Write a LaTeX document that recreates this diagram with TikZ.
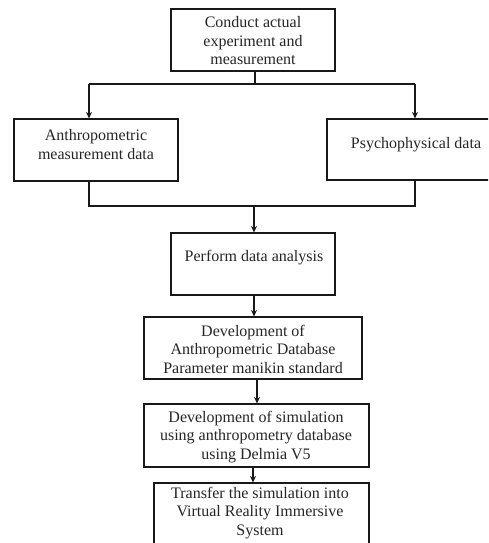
\documentclass[tikz,border=0pt]{standalone}
\usepackage{fontspec}
\setmainfont{Liberation Serif}
\usetikzlibrary{arrows.meta}
\begin{document}
\begin{tikzpicture}[x=1pt,y=-1pt,
  boxnode/.style={draw=black!90, line width=1.1pt, rectangle, inner sep=0pt},
  txt/.style={align=center, inner sep=0pt, font=\fontsize{16}{18.5}\selectfont, text=black!85},
  conn/.style={draw=black!90, line width=1.1pt},
  arr/.style={conn, -{Stealth[length=6.5pt,width=6pt]}}]
\useasboundingbox (0,0) rectangle (488,543);
\clip (0,0) rectangle (488,543);
\fill[white] (0,0) rectangle (488,543);
% boxes
\node[boxnode, minimum width=164pt, minimum height=62pt] (b1) at (253,40) {};
\node[boxnode, minimum width=164pt, minimum height=62pt] (b2) at (96,150) {};
\node[boxnode, minimum width=180pt, minimum height=61pt] (b3) at (417,149.5) {};
\node[boxnode, minimum width=164pt, minimum height=62pt] (b4) at (253,264) {};
\node[boxnode, minimum width=218pt, minimum height=62pt] (b5) at (253,348) {};
\node[boxnode, minimum width=225pt, minimum height=63pt] (b6) at (256.5,435.5) {};
\node[boxnode, minimum width=215pt, minimum height=90pt] (b7) at (261.5,528) {};
% texts
\node[txt] (t1) at (253,41) {Conduct actual\\experiment and\\measurement};
\node[txt] (t2) at (96,144.5) {Anthropometric\\measurement data};
\node[txt] (t3) at (416,145) {Psychophysical data};
\node[txt] (t4) at (254,258) {Perform data analysis};
\node[txt] (t5) at (253,349) {Development of\\Anthropometric Database\\Parameter manikin standard};
\node[txt] (t6) at (256,437) {Development of simulation\\using anthropometry database\\using Delmia V5};
\node[txt] (t7) at (260,513) {Transfer the simulation into\\Virtual Reality Immersive\\System};
% connectors
\coordinate (s1) at (255,84);
\coordinate (s2) at (254,206);
\draw[conn] (b1.south -| s1) -- (s1);
\draw[conn] (89,84) -- (415,84);
\draw[arr] (89,84) -- (b2.north -| 89,0);
\draw[arr] (415,84) -- (b3.north -| 415,0);
\draw[conn] (b2.south -| 89,0) -- (89,206) -- (415,206) -- (b3.south -| 415,0);
\draw[arr] (s2) -- (b4.north -| s2);
\draw[arr] (b4.south -| 254,0) -- (b5.north -| 254,0);
\draw[arr] (b5.south -| 257,0) -- (b6.north -| 257,0);
\draw[arr] (b6.south -| 253,0) -- (b7.north -| 253,0);
\end{tikzpicture}
\end{document}
